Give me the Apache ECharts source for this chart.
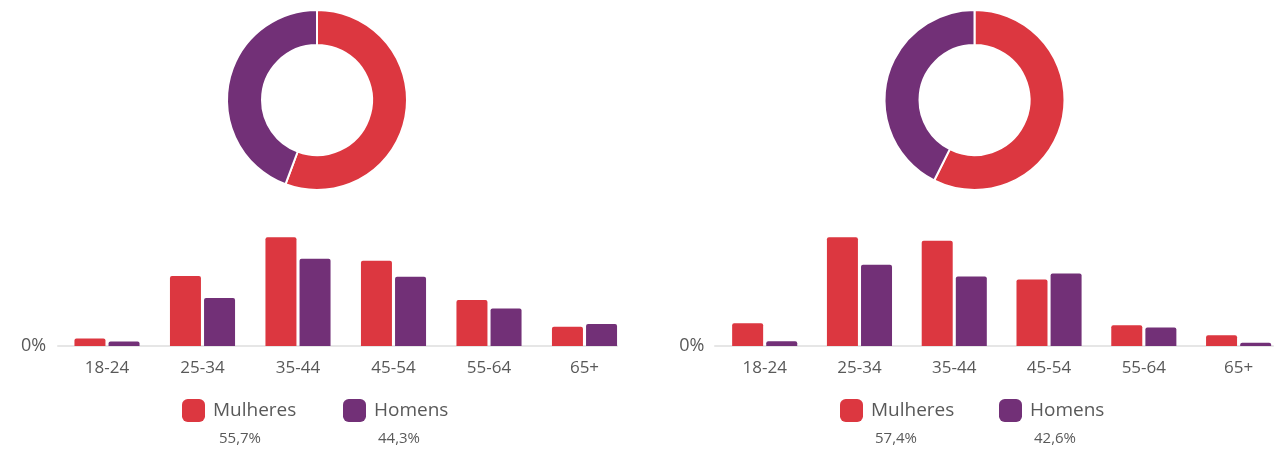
<!DOCTYPE html>
<html>
<head>
<meta charset="utf-8">
<script src="https://cdn.jsdelivr.net/npm/echarts@6/dist/echarts.min.js"></script>
<style>
html,body{margin:0;padding:0;background:#fff;}
#c{width:1286px;height:449px;}
</style>
</head>
<body>
<div id="c"></div>
<script>
// ---- data ----
var categories = ['18-24', '25-34', '35-44', '45-54', '55-64', '65+'];
var seriesNames = ['Mulheres', 'Homens'];
var leftWomen = [1.9, 17.5, 27.2, 21.3, 11.5, 4.8];
var leftMen = [1.1, 12.0, 21.8, 17.3, 9.4, 5.5];
var rightWomen = [5.7, 27.2, 26.3, 16.6, 5.2, 2.7];
var rightMen = [1.2, 20.3, 17.4, 18.1, 4.6, 0.8];
var leftShare = [55.7, 44.3];
var rightShare = [57.4, 42.6];
var yTickLabels = ['0%'];

// ---- style ----
var RED = '#dc3740';
var PURPLE = '#723077';
var TXT = '#595959';
var FONT = 'Open Sans';
var colors = [RED, PURPLE];

function fmtPct(v) { return v.toFixed(1).replace('.', ',') + '%'; }

var chart = echarts.init(document.getElementById('c'), null, {renderer: 'canvas'});

function barGrid(left, width) {
  return {left: left, top: 226, width: width, height: 120, containLabel: false};
}

var grids = [
  barGrid(59.25, 573),
  barGrid(717.3, 572.4),
  barGrid(58, 559),
  barGrid(715, 558)
];

function catAxis(gi) {
  return {
    type: 'category', gridIndex: gi, data: categories,
    axisLine: {show: false}, axisTick: {show: false},
    axisLabel: {color: TXT, fontFamily: FONT, fontSize: 17, margin: 14}
  };
}
function lineAxis(gi) {
  return {
    type: 'value', gridIndex: gi, min: 0, max: 1,
    axisLine: {show: true, lineStyle: {color: '#e6e6e6', width: 2}},
    axisTick: {show: false}, axisLabel: {show: false}, splitLine: {show: false}
  };
}
function valAxis(gi, show) {
  return {
    type: 'value', gridIndex: gi, min: 0, max: 30, interval: 30, show: show,
    axisLine: {show: false}, axisTick: {show: false}, splitLine: {show: false},
    axisLabel: {
      color: TXT, fontFamily: FONT, fontSize: 18, margin: 13, padding: [6, 0, 0, 0],
      formatter: function (v) { return v === 0 ? yTickLabels[0] : ''; }
    }
  };
}

function barSeries(name, data, gi, color) {
  return {
    type: 'bar', name: name, data: data,
    xAxisIndex: gi, yAxisIndex: gi,
    barWidth: 31, barGap: '10%',
    itemStyle: {color: color, borderRadius: [2, 2, 0, 0]},
    emphasis: {disabled: true}, z: 3
  };
}

function pieSeries(share, cx) {
  return {
    type: 'pie', center: [cx, 100], radius: [55, 90],
    startAngle: 90, clockwise: true,
    label: {show: false}, labelLine: {show: false},
    emphasis: {disabled: true},
    itemStyle: {borderColor: '#ffffff', borderWidth: 2},
    data: share.map(function (v, i) {
      return {name: seriesNames[i], value: v, itemStyle: {color: colors[i]}};
    })
  };
}

// one legend per item so each can be placed like the reference
function nameLegend(left, i) {
  return {
    left: left, top: 399, padding: 0, selectedMode: false,
    data: [seriesNames[i]], icon: 'roundRect', itemWidth: 23, itemHeight: 23,
    textStyle: {
      color: TXT, fontFamily: FONT, fontSize: 19,
      rich: {g: {width: 3, fontSize: 19, fontFamily: FONT},
             n: {color: TXT, fontSize: 19, fontFamily: FONT}}
    },
    formatter: function (n) { return '{g| }{n|' + n + '}'; }
  };
}
function pctLegend(left, share, i) {
  return {
    left: left, top: 431, padding: 0, selectedMode: false,
    data: [seriesNames[i]], icon: 'rect', itemWidth: 23, itemHeight: 14,
    itemStyle: {opacity: 0},
    textStyle: {color: TXT, fontFamily: FONT, fontSize: 15},
    formatter: function () { return fmtPct(share[i]); }
  };
}

var option = {
  animation: false,
  backgroundColor: '#ffffff',
  grid: grids,
  xAxis: [catAxis(0), catAxis(1), lineAxis(2), lineAxis(3)],
  yAxis: [valAxis(0, true), valAxis(1, true), valAxis(2, false), valAxis(3, false)],
  legend: [
    nameLegend(182, 0), nameLegend(343, 1),
    pctLegend(191, leftShare, 0), pctLegend(350, leftShare, 1),
    nameLegend(840, 0), nameLegend(999, 1),
    pctLegend(847, rightShare, 0), pctLegend(1006, rightShare, 1)
  ],
  series: [
    barSeries(seriesNames[0], leftWomen, 0, RED),
    barSeries(seriesNames[1], leftMen, 0, PURPLE),
    barSeries(seriesNames[0], rightWomen, 1, RED),
    barSeries(seriesNames[1], rightMen, 1, PURPLE),
    pieSeries(leftShare, 317),
    pieSeries(rightShare, 974.5)
  ]
};
chart.setOption(option);
</script>
</body>
</html>
